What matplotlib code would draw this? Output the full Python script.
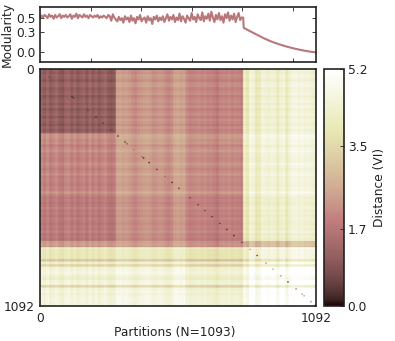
import numpy as np
from matplotlib import pyplot as plt

N = 1093
bin_size = 12

# partition groups along rows and columns of the distance matrix
row_edges = [0, 295, 793, 822, 1093]
col_edges = [0, 300, 804, 1093]
base = [[1.12, 2.2, 4.3],
        [1.9, 2.2, 4.3],
        [2.3, 2.3, 2.85],
        [4.45, 4.5, 5.05]]

# stripes, one value per 12 partitions
col_stripe = [.1, -.1, .15, -.15, 0, .15, -.1, -.2, .1, .15, -.1, .1, -.15, 0, .1, -.15, .15, -.1, .1, -.15, 0, .15, -.1, -.2, -.1,
              .2, .25, .15, .2, .1, -.05, -.15, 0, .1, .15, .2, .1, -.05, 0, .1, .05, -.1, -.2, -.05, .25, .3, .2, .25,
              -.1, -.25, -.2, -.15, -.1, -.2, -.1, -.25, -.2, -.3, -.45, -.2, -.15, -.2, -.1, -.25, -.15, -.2, -.3,
              -.2, -.45, .2, .1, -.4, -.25, .2, .1, 0, .15, .1, -.3, .1, .15, -.35, .1, .3, .3, .2, .3, .15, .2, .1, 0, .1]
row_stripe = [0, -.1, .1, 0, -.15, .1, .15, -.1, 0, .1, -.15, 0, .1, -.1, .15, -.15, 0, .1, -.15, .1, 0, -.15, .1, -.1, 0,
              .35, .3, .15, .25, -.05, .15, .3, .05, .1, 0, .05, .25, .1, -.05, .1, .25, 0, .1, .05, -.05, .1, .05, .35, .05,
              -.15, -.05, -.2, -.1, .05, -.15, -.05, -.2, 0, -.1, -.2, -.05, -.15, .05, -.2, -.1, -.25, .05,
              .1, -.05,
              -.55, -.5, -.55, -.5, -1.3, -.2, -1.0, 0, .1, .15, -.1, -.3, .05, .1, -1.0, 0, .1, -.05, .1, .15, .1, .1, -.6]

# dark marks along the diagonal
speck_pos = [36, 127, 133, 190, 222, 250, 281, 309, 337, 345, 372, 404, 410, 432, 463, 495, 523, 550, 594, 626,
             653, 681, 712, 740, 768, 800, 832, 860, 895, 923, 954, 982, 1014, 1038, 1046, 1073, 1090]
speck_val = [.6, .2, .3, .4, .2, .4, .5, .2, .3, .8, 1.5, 1.2, .2, .2, .4, 1.2, .2, .4, .5, .4,
             .5, .3, .4, .2, .2, .3, 2.2, .3, 2.0, 2.5, 1.8, .2, 1.5, 2.2, 2.2, 1.8, .4]

# modularity, noisy stretch read every 6 partitions
mod_noisy = [.52, .56, .53, .57, .55, .52, .58, .54, .56, .51, .57, .53, .55, .58, .52, .56, .54, .57, .53, .55,
             .58, .51, .56, .54, .59, .52, .57, .55, .53, .58, .54, .56, .52, .57, .55, .53, .56, .54, .57, .52,
             .55, .53, .56, .54, .52, .57, .55, .48, .58, .53, .50, .47, .54, .49, .52, .45, .55, .50, .53, .46,
             .56, .48, .52, .44, .54, .50, .57, .47, .51, .53, .45, .55, .49, .52, .43, .54, .50, .56, .47, .53,
             .49, .55, .46, .52, .58, .48, .54, .50, .57, .46, .53, .49, .59, .47, .55, .51, .45, .56, .52, .48,
             .60, .50, .54, .46, .58, .52, .49, .61, .47, .55, .51, .59, .48, .62, .53, .46, .57, .50, .60, .49,
             .55, .45, .58, .52, .61, .48, .56, .50, .59, .46, .54, .60, .49, .53]
mod_tail_x = [804, 806, 830, 860, 890, 920, 950, 980, 1010, 1040, 1070, 1092]
mod_tail = [.53, .37, .32, .26, .20, .15, .11, .075, .045, .02, 0, -.01]

cb_ticks = [0.0, 1.7, 3.5, 5.2]
cb_labels = ['0.0', '1.7', '3.5', '5.2']
mod_ticks = [0.0, 0.31, 0.52]
mod_labels = ['0.0', '0.3', '0.5']

plt.rcParams['font.size'] = 8.8
plt.rcParams['axes.edgecolor'] = '#222222'
plt.rcParams['text.color'] = '#222222'
plt.rcParams['xtick.color'] = '#222222'
plt.rcParams['ytick.color'] = '#222222'
plt.rcParams['axes.labelcolor'] = '#222222'

# build the matrix
idx = np.arange(N)
row_group = np.searchsorted(row_edges, idx, side='right') - 1
col_group = np.searchsorted(col_edges, idx, side='right') - 1
base = np.array(base)
row_stripe = np.array(row_stripe)
col_stripe = np.array(col_stripe)
D = base[row_group][:, col_group]
D = D + row_stripe[idx // bin_size][:, None] + col_stripe[idx // bin_size][None, :]
for p, v in zip(speck_pos, speck_val):
    D[max(p - 3, 0):p + 3, max(p - 3, 0):p + 3] = v
D = np.clip(D, 0, 5.2)

W, H = 395.0, 341.0
fig = plt.figure(figsize=(W / 100, H / 100), dpi=100)
ax_top = fig.add_axes([40 / W, 1 - 61.5 / H, 276 / W, 54.5 / H])
ax = fig.add_axes([40 / W, 1 - 306 / H, 276 / W, 237 / H])
cax = fig.add_axes([324 / W, 1 - 306 / H, 19.5 / W, 237 / H])

# modularity trace
mod_x = list(np.arange(len(mod_noisy)) * 6) + mod_tail_x
mod_y = mod_noisy + mod_tail
ax_top.plot(mod_x, mod_y, color='#b8777b', lw=1.5)
ax_top.set_xlim(0, 1092)
ax_top.set_ylim(-0.152, 0.693)
ax_top.set_xticks([200, 400, 600, 800, 1000])
ax_top.set_xticklabels([])
ax_top.set_yticks(mod_ticks)
ax_top.set_yticklabels(mod_labels)
ax_top.tick_params(direction='in', top=True, right=True, length=3, width=0.6, pad=3)
ax_top.set_ylabel('Modularity')
ax_top.yaxis.set_label_coords(-0.095, 0.5)

# distance matrix
im = ax.imshow(D, cmap='pink', vmin=0, vmax=5.2, aspect='auto', extent=(-0.5, N - 0.5, N - 0.5, -0.5))
ax.set_xticks([0, 1092])
ax.set_yticks([0, 1092])
ax.tick_params(length=0, pad=4)
ax.set_xlabel('Partitions (N=1093)')
ax.xaxis.set_label_coords(0.49, -0.085)

cb = fig.colorbar(im, cax=cax, ticks=cb_ticks)
cb.ax.set_yticklabels(cb_labels)
cb.ax.tick_params(direction='in', length=3, width=0.6, pad=3)
cb.set_label('Distance (VI)', labelpad=4)

for a in [ax_top, ax, cax]:
    for s in a.spines.values():
        s.set_linewidth(1.2)
cb.outline.set_linewidth(1.2)

plt.savefig('out.png', dpi=100)
